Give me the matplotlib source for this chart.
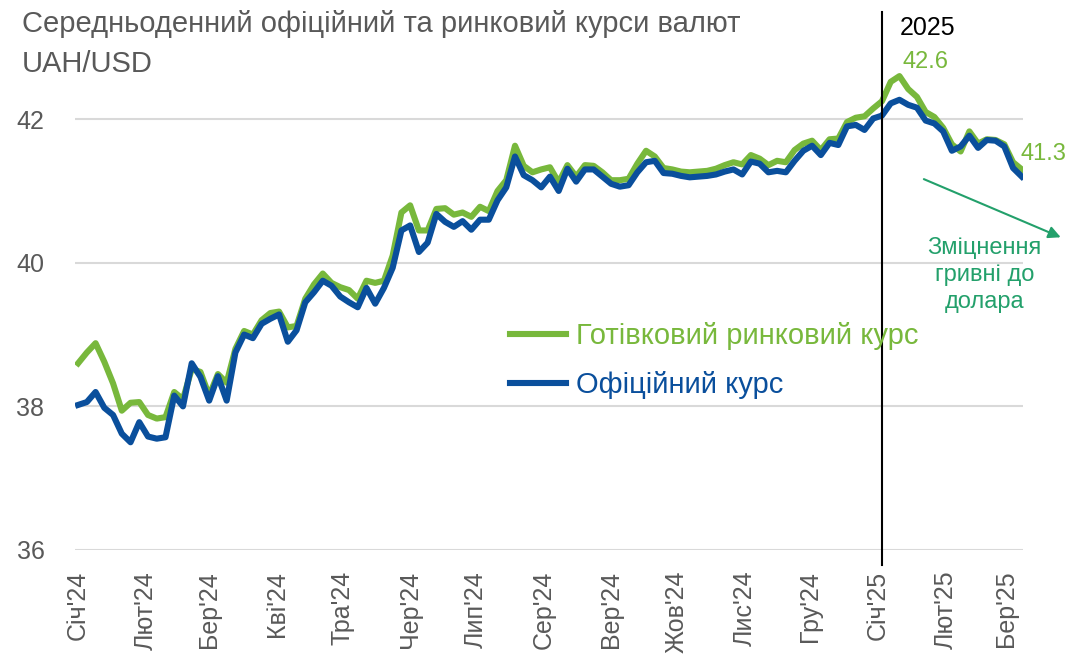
import matplotlib
matplotlib.use("Agg")
import matplotlib.pyplot as plt
import pandas as pd

plt.rcParams['font.family'] = ['Liberation Sans', 'DejaVu Sans']

# дані: кожні 4 дні з 1 січня 2024
dates = pd.date_range('2024-01-01', periods=109, freq='4D')

official = [38.02, 38.06, 38.20, 37.98, 37.88, 37.62, 37.50, 37.78, 37.58, 37.55,
            37.57, 38.15, 38.00, 38.60, 38.41, 38.08, 38.42, 38.08, 38.75, 39.00,
            38.95, 39.15, 39.22, 39.28, 38.90, 39.06, 39.45, 39.59, 39.75, 39.68,
            39.53, 39.45, 39.38, 39.65, 39.43, 39.65, 39.93, 40.45, 40.52, 40.15,
            40.28, 40.68, 40.57, 40.50, 40.58, 40.46, 40.60, 40.60, 40.87, 41.05,
            41.48, 41.22, 41.15, 41.05, 41.20, 41.00, 41.31, 41.13, 41.30, 41.30,
            41.20, 41.10, 41.06, 41.08, 41.26, 41.40, 41.42, 41.25, 41.24, 41.21,
            41.19, 41.20, 41.21, 41.23, 41.27, 41.30, 41.23, 41.41, 41.38, 41.26,
            41.28, 41.26, 41.42, 41.56, 41.63, 41.50, 41.67, 41.64, 41.90, 41.92,
            41.85, 42.01, 42.05, 42.22, 42.27, 42.20, 42.16, 41.98, 41.94, 41.83,
            41.56, 41.62, 41.77, 41.60, 41.71, 41.70, 41.62, 41.32, 41.20]

market = [38.60, 38.75, 38.88, 38.62, 38.32, 37.94, 38.05, 38.06, 37.88, 37.83,
          37.85, 38.20, 38.10, 38.52, 38.48, 38.15, 38.45, 38.33, 38.80, 39.05,
          39.00, 39.20, 39.30, 39.32, 39.10, 39.12, 39.50, 39.70, 39.85, 39.72,
          39.66, 39.62, 39.50, 39.75, 39.72, 39.75, 40.10, 40.70, 40.80, 40.45,
          40.45, 40.75, 40.76, 40.67, 40.70, 40.64, 40.78, 40.72, 41.00, 41.15,
          41.63, 41.35, 41.26, 41.30, 41.33, 41.12, 41.36, 41.20, 41.36, 41.35,
          41.26, 41.15, 41.15, 41.17, 41.38, 41.56, 41.48, 41.32, 41.30, 41.27,
          41.26, 41.27, 41.28, 41.31, 41.36, 41.40, 41.37, 41.50, 41.45, 41.36,
          41.42, 41.40, 41.57, 41.66, 41.70, 41.57, 41.72, 41.73, 41.96, 42.02,
          42.04, 42.15, 42.25, 42.52, 42.60, 42.42, 42.31, 42.10, 42.03, 41.88,
          41.65, 41.55, 41.83, 41.66, 41.72, 41.71, 41.65, 41.40, 41.30]

month_names = ["Січ", "Лют", "Бер", "Кві", "Тра", "Чер", "Лип", "Сер",
               "Вер", "Жов", "Лис", "Гру", "Січ", "Лют", "Бер"]
month_starts = pd.date_range('2024-01-01', periods=15, freq='MS')
tick_labels = [m + "'" + str(d.year)[2:] for m, d in zip(month_names, month_starts)]

green = '#78B83C'
blue = '#0A4F9C'
teal = '#23A06B'
grey = '#595959'

fig = plt.figure(figsize=(10.92, 6.57), dpi=100)
ax = fig.add_axes([0.0687, 0.1629, 0.868, 0.765])

ax.plot(dates, market, color=green, lw=4.4, solid_joinstyle='round',
        label='Готівковий ринковий курс', zorder=3)
ax.plot(dates, official, color=blue, lw=4.4, solid_joinstyle='round',
        label='Офіційний курс', zorder=4)

ax.set_ylim(36, 43)
ax.set_yticks([36, 38, 40, 42])
ax.set_xlim(pd.Timestamp('2023-12-30 14:00'), pd.Timestamp('2025-03-08 12:00'))
ax.set_xticks(month_starts)
ax.set_xticklabels(tick_labels, rotation=90, va='top', ha='center')
ax.tick_params(axis='both', length=0, colors=grey)
ax.tick_params(axis='y', pad=22, labelsize=18)
ax.tick_params(axis='x', pad=15, labelsize=18)
ax.grid(axis='y', color='#D9D9D9', lw=1.5, zorder=0)
for s in ax.spines.values():
    s.set_visible(False)

# межа року
x25 = pd.Timestamp('2025-01-03')
ax.axvline(x25, ymin=-0.03, ymax=1.07, color='black', lw=1.5, clip_on=False, zorder=5)
ax.text(pd.Timestamp('2025-01-24'), 43.27, '2025', fontsize=18, color='black',
        ha='center', va='center')

ax.text(pd.Timestamp('2025-01-23'), 42.79, '42.6', fontsize=17, color=green,
        ha='center', va='center')
ax.text(pd.Timestamp('2025-03-18'), 41.51, '41.3', fontsize=17, color=green,
        ha='center', va='center', clip_on=False)

ax.annotate('', xy=(pd.Timestamp('2025-03-27'), 40.34),
            xytext=(pd.Timestamp('2025-01-21'), 41.18),
            arrowprops=dict(arrowstyle='-|>', color=teal, lw=1.5, mutation_scale=18),
            annotation_clip=False)
ax.text(pd.Timestamp('2025-02-19'), 39.83, 'Зміцнення\nгривні до\nдолара',
        fontsize=17, color=teal, ha='center', va='center', linespacing=1.3)

leg = ax.legend(loc='upper left', bbox_to_anchor=(0.459, 0.453), frameon=False,
                fontsize=21, handlelength=1.9, handletextpad=0.35,
                labelspacing=0.72, borderpad=0, borderaxespad=0,
                labelcolor='linecolor')

fig.text(0.02, 0.963, 'Середньоденний офіційний та ринковий курси валют',
         fontsize=21, color=grey, ha='left', va='center')
fig.text(0.02, 0.903, 'UAH/USD', fontsize=21, color=grey, ha='left', va='center')

fig.savefig('out.png', dpi=100)
